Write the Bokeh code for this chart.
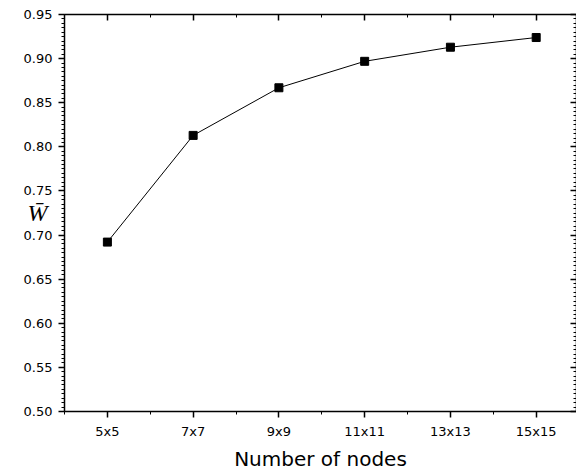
from bokeh.plotting import figure
from bokeh.models import (Range1d, FixedTicker, SingleIntervalTicker, LinearAxis,
                          NumeralTickFormatter, CustomJSTickFormatter, ColumnDataSource)
from bokeh.embed import file_html
from bokeh.resources import INLINE

categories = ["5x5", "7x7", "9x9", "11x11", "13x13", "15x15"]
values = [0.692, 0.813, 0.867, 0.897, 0.913, 0.924]
y_ticks_interval = 0.05

xs = list(range(len(categories)))
src = ColumnDataSource(dict(x=xs, y=values))

p = figure(width=576, height=473, output_backend="svg", toolbar_location=None,
           x_range=Range1d(-0.5, len(categories) - 0.53), y_range=Range1d(0.4999, 0.9501),
           min_border_left=64, min_border_right=0, min_border_top=14, min_border_bottom=60,
           x_axis_location=None, y_axis_location=None)
p.grid.visible = False
p.outline_line_color = None
p.background_fill_color = "white"
p.border_fill_color = "white"

xt = FixedTicker(ticks=xs, minor_ticks=[i + 0.5 for i in range(-1, len(categories))])
yt = SingleIntervalTicker(interval=y_ticks_interval, num_minor_ticks=10)
font = "DejaVu Sans"

bottom = LinearAxis(ticker=xt, major_label_overrides={i: c for i, c in enumerate(categories)})
bottom.axis_label = "Number of nodes"
left = LinearAxis(ticker=yt, formatter=NumeralTickFormatter(format="0.00"))
left.axis_label = "W\u0304"
top = LinearAxis(ticker=xt, formatter=CustomJSTickFormatter(code="return ''"), major_label_standoff=0)
right = LinearAxis(ticker=yt, formatter=CustomJSTickFormatter(code="return ''"), major_label_standoff=0)

for ax in (bottom, left, top, right):
    ax.axis_line_color = "black"
    ax.axis_line_width = 1.5
    ax.major_tick_line_color = "black"
    ax.minor_tick_line_color = "black"
    ax.major_tick_line_width = 1.5
    ax.minor_tick_line_width = 1
    ax.major_label_text_font = font
    ax.major_label_text_color = "black"

for ax in (bottom, left):
    ax.major_tick_out = 6
    ax.major_tick_in = 0
    ax.minor_tick_out = 3
    ax.minor_tick_in = 0
    ax.major_label_text_font_size = "13px"
    ax.major_label_standoff = 6

for ax in (top, right):
    ax.major_tick_out = 0
    ax.major_tick_in = 6
    ax.minor_tick_out = 0
    ax.minor_tick_in = 3

bottom.axis_label_text_font = font
bottom.axis_label_text_font_size = "20px"
bottom.axis_label_text_font_style = "normal"
bottom.axis_label_text_color = "black"
bottom.axis_label_standoff = 5

left.axis_label_orientation = "horizontal"
left.axis_label_text_font = "Liberation Serif"
left.axis_label_text_font_style = "italic"
left.axis_label_text_font_size = "24px"
left.axis_label_text_color = "black"
left.axis_label_standoff = -27

p.add_layout(bottom, "below")
p.add_layout(left, "left")
p.add_layout(top, "above")
p.add_layout(right, "right")

p.line("x", "y", source=src, line_color="black", line_width=1)
p.scatter("x", "y", source=src, marker="square", size=8, fill_color="black", line_color="black")

open("out.html", "w").write(file_html(p, INLINE))
